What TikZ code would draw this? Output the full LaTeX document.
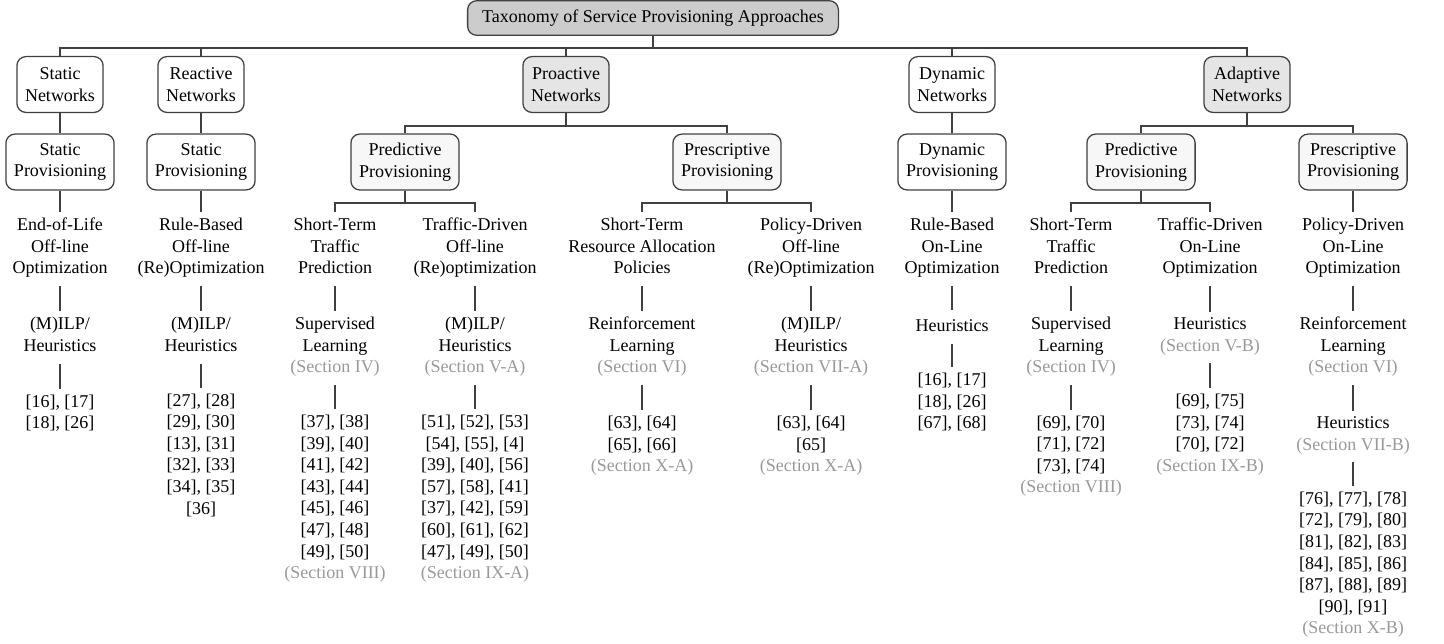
\documentclass[tikz,border=0pt]{standalone}
\usepackage{fontspec}
\setmainfont{Liberation Serif}

\definecolor{linegray}{gray}{0.25}
\definecolor{secgray}{gray}{0.6}
\definecolor{rootfill}{gray}{0.8}
\definecolor{netfill}{gray}{0.9}
\definecolor{provfill}{gray}{0.97}

\newcommand{\sect}[1]{\textcolor{secgray}{(Section #1)}}

\tikzset{
  box/.style={draw=linegray, line width=0.7pt, rounded corners=5pt, align=center,
    inner xsep=4.5pt, inner ysep=5pt, minimum height=31pt, fill=white},
  rootbox/.style={box, fill=rootfill, minimum height=0pt, minimum width=206pt},
  netbox/.style={box, fill=netfill},
  provbox/.style={box, fill=provfill},
  leaf/.style={align=center, inner xsep=0pt, inner ysep=3pt,
    execute at begin node=\strut, execute at end node=\strut},
  link/.style={draw=linegray, line width=0.7pt}
}

\begin{document}
\begin{tikzpicture}[x=0.5556pt, y=-0.5556pt]
  \useasboundingbox (0,0) rectangle (1444,643);

  \node[rootbox] (root) at (653,18) {Taxonomy of Service Provisioning Approaches};

  % networks
  \node[box]    (netS) at (60,84.5)   {Static\\Networks};
  \node[box]    (netR) at (201,84.5)  {Reactive\\Networks};
  \node[netbox] (netP) at (566,84.5)  {Proactive\\Networks};
  \node[box]    (netD) at (952,84.5)  {Dynamic\\Networks};
  \node[netbox] (netA) at (1247,84.5) {Adaptive\\Networks};

  % provisioning
  \node[box]     (provS)  at (60,162)   {Static\\Provisioning};
  \node[box]     (provR)  at (201,162)  {Static\\Provisioning};
  \node[provbox] (provPP) at (405,162)  {Predictive\\Provisioning};
  \node[provbox] (provPS) at (727,162)  {Prescriptive\\Provisioning};
  \node[box]     (provD)  at (952,162)  {Dynamic\\Provisioning};
  \node[provbox] (provAP) at (1141,162) {Predictive\\Provisioning};
  \node[provbox] (provAS) at (1353,162) {Prescriptive\\Provisioning};

  % approaches
  \node[leaf] (eolOpt)  at (60,249)   {End-of-Life\\Off-line\\Optimization};
  \node[leaf] (rbOff)   at (201,249)  {Rule-Based\\Off-line\\(Re)Optimization};
  \node[leaf] (stPred)  at (335,249)  {Short-Term\\Traffic\\Prediction};
  \node[leaf] (tdOff)   at (475,249)  {Traffic-Driven\\Off-line\\(Re)optimization};
  \node[leaf] (stRes)   at (642,249)  {Short-Term\\Resource Allocation\\Policies};
  \node[leaf] (pdOff)   at (811,249)  {Policy-Driven\\Off-line\\(Re)Optimization};
  \node[leaf] (rbOn)    at (952,249)  {Rule-Based\\On-Line\\Optimization};
  \node[leaf] (stPredA) at (1071,249) {Short-Term\\Traffic\\Prediction};
  \node[leaf] (tdOn)    at (1210,249) {Traffic-Driven\\On-Line\\Optimization};
  \node[leaf] (pdOn)    at (1353,249) {Policy-Driven\\On-Line\\Optimization};

  % methods
  \node[leaf] (eolMeth)    at (60,337.5)   {(M)ILP/\\Heuristics};
  \node[leaf] (rbOffMeth)  at (201,337.5)  {(M)ILP/\\Heuristics};
  \node[leaf] (stPredMeth) at (335,348)    {Supervised\\Learning\\\sect{IV}};
  \node[leaf] (tdOffMeth)  at (475,348)    {(M)ILP/\\Heuristics\\\sect{V-A}};
  \node[leaf] (stResMeth)  at (642,348)    {Reinforcement\\Learning\\\sect{VI}};
  \node[leaf] (pdOffMeth)  at (811,348)    {(M)ILP/\\Heuristics\\\sect{VII-A}};
  \node[leaf] (rbOnMeth)   at (952,327)    {Heuristics};
  \node[leaf] (stPredAMeth) at (1071,348)  {Supervised\\Learning\\\sect{IV}};
  \node[leaf] (tdOnMeth)   at (1210,337.5) {Heuristics\\\sect{V-B}};
  \node[leaf] (pdOnMeth)   at (1353,348)   {Reinforcement\\Learning\\\sect{VI}};
  \node[leaf] (pdOnHeur)   at (1353,436.5) {Heuristics\\\sect{VII-B}};

  % references
  \node[leaf] (eolRef)    at (60,415)    {[16], [17]\\{}[18], [26]};
  \node[leaf] (rbOffRef)  at (201,457)   {[27], [28]\\{}[29], [30]\\{}[13], [31]\\{}[32], [33]\\{}[34], [35]\\{}[36]};
  \node[leaf] (stPredRef) at (335,500)   {[37], [38]\\{}[39], [40]\\{}[41], [42]\\{}[43], [44]\\{}[45], [46]\\{}[47], [48]\\{}[49], [50]\\\sect{VIII}};
  \node[leaf] (tdOffRef)  at (475,500)   {[51], [52], [53]\\{}[54], [55], [4]\\{}[39], [40], [56]\\{}[57], [58], [41]\\{}[37], [42], [59]\\{}[60], [61], [62]\\{}[47], [49], [50]\\\sect{IX-A}};
  \node[leaf] (stResRef)  at (642,447)   {[63], [64]\\{}[65], [66]\\\sect{X-A}};
  \node[leaf] (pdOffRef)  at (811,447)   {[63], [64]\\{}[65]\\\sect{X-A}};
  \node[leaf] (rbOnRef)   at (952,404)   {[16], [17]\\{}[18], [26]\\{}[67], [68]};
  \node[leaf] (stPredARef) at (1071,457.5) {[69], [70]\\{}[71], [72]\\{}[73], [74]\\\sect{VIII}};
  \node[leaf] (tdOnRef)   at (1210,436)  {[69], [75]\\{}[73], [74]\\{}[70], [72]\\\sect{IX-B}};
  \node[leaf] (pdOnRef)   at (1353,566) {[76], [77], [78]\\{}[72], [79], [80]\\{}[81], [82], [83]\\{}[84], [85], [86]\\{}[87], [88], [89]\\{}[90], [91]\\\sect{X-B}};

  % bus heights
  \coordinate (bar0) at (0,48);
  \coordinate (bar1) at (0,126);
  \coordinate (bar2) at (0,203);

  \foreach \n in {netS,netR,netP,netD,netA}
    \draw[link] (root.south) -- (root.south |- bar0) -| (\n.north);

  \draw[link] (netS) -- (provS);
  \draw[link] (netR) -- (provR);
  \draw[link] (netD) -- (provD);
  \draw[link] (netP.south) -- (netP.south |- bar1) -| (provPP.north);
  \draw[link] (netP.south) -- (netP.south |- bar1) -| (provPS.north);
  \draw[link] (netA.south) -- (netA.south |- bar1) -| (provAP.north);
  \draw[link] (netA.south) -- (netA.south |- bar1) -| (provAS.north);

  \draw[link] (provPP.south) -- (provPP.south |- bar2) -| (stPred.north);
  \draw[link] (provPP.south) -- (provPP.south |- bar2) -| (tdOff.north);
  \draw[link] (provPS.south) -- (provPS.south |- bar2) -| (stRes.north);
  \draw[link] (provPS.south) -- (provPS.south |- bar2) -| (pdOff.north);
  \draw[link] (provAP.south) -- (provAP.south |- bar2) -| (stPredA.north);
  \draw[link] (provAP.south) -- (provAP.south |- bar2) -| (tdOn.north);

  \foreach \a/\b in {provS/eolOpt, eolOpt/eolMeth, eolMeth/eolRef,
      provR/rbOff, rbOff/rbOffMeth, rbOffMeth/rbOffRef,
      stPred/stPredMeth, stPredMeth/stPredRef,
      tdOff/tdOffMeth, tdOffMeth/tdOffRef,
      stRes/stResMeth, stResMeth/stResRef,
      pdOff/pdOffMeth, pdOffMeth/pdOffRef,
      provD/rbOn, rbOn/rbOnMeth, rbOnMeth/rbOnRef,
      stPredA/stPredAMeth, stPredAMeth/stPredARef,
      tdOn/tdOnMeth, tdOnMeth/tdOnRef,
      provAS/pdOn, pdOn/pdOnMeth, pdOnMeth/pdOnHeur, pdOnHeur/pdOnRef}
    \draw[link] (\a) -- (\b);
\end{tikzpicture}
\end{document}
